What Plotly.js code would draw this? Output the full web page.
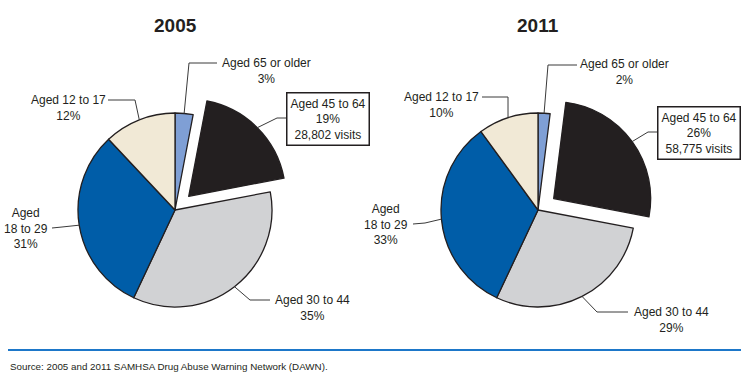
<!DOCTYPE html>
<html><head><meta charset="utf-8">
<script src="https://cdn.plot.ly/plotly-3.0.1.min.js"></script>
<style>html,body{margin:0;padding:0;background:#fff}#chart{width:750px;height:379px}</style>
</head><body><div id="chart"></div>
<script>
// ---- data ----
const categories = ['Aged 65 or older','Aged 45 to 64','Aged 30 to 44','Aged 18 to 29','Aged 12 to 17'];
const labelNames = ['Aged 65 or older','Aged 45 to 64','Aged 30 to 44','Aged<br>18 to 29','Aged 12 to 17'];
const years = ['2005','2011'];
const values2005 = [3,19,35,31,12];
const values2011 = [2,26,29,33,10];
const visits2005 = '28,802';
const visits2011 = '58,775';
const sourceText = 'Source: 2005 and 2011 SAMHSA Drug Abuse Warning Network (DAWN).';

// ---- styling / layout ----
const W = 750, H = 379;
const colors = ['#7f9fd5','#231f20','#d1d2d4','#005da8','#f1e9d6'];
const pulls = [0,0.2,0,0,0];
const R = 97;
const centers = [[175,210],[538,210]];
const FONT = '"Liberation Sans",Arial,sans-serif';
// label placement per pie, per slice: text centre, knee, line end (px)
const labelPos = [
  [ {t:[266,71], k:[189,63], e:[217,63]},
    {t:[327.5,118.5], k:[277,118], e:[287,118], box:true},
    {t:[312,308], k:[250,300], e:[270,300]},
    {t:[26,228], k:[62,227], e:[52,228]},
    {t:[68,108], k:[135,100], e:[108,100]} ],
  [ {t:[624,72], k:[548,65], e:[577,65]},
    {t:[699,133], k:[648,132], e:[659,132], box:true},
    {t:[671,320], k:[597,312], e:[628,312]},
    {t:[386,224], k:[425,223], e:[413,224]},
    {t:[441,105], k:[508,97], e:[482,97]} ]
];

const px = x => x / W;
const py = y => 1 - y / H;

function edgePoint(vals, idx, c, r, pull) {
  const tot = vals.reduce((a,b)=>a+b,0);
  let cum = 0; for (let i=0;i<idx;i++) cum += vals[i];
  const a = (cum + vals[idx]/2) / tot * 2 * Math.PI;
  const rr = r + pull * r;
  return [c[0] + rr*Math.sin(a), c[1] - rr*Math.cos(a)];
}

const allVals = [values2005, values2011];
const visits = [visits2005, visits2011];
const traces = [], annotations = [], shapes = [];

allVals.forEach((vals, p) => {
  const c = centers[p];
  const half = R * (1 + Math.max(...pulls));
  traces.push({
    type:'pie', labels:categories, values:vals, sort:false, direction:'clockwise', rotation:0,
    pull:pulls, textinfo:'none', hoverinfo:'none',
    marker:{colors:colors, line:{color:'#231f20', width:1.3}},
    domain:{x:[px(c[0]-half), px(c[0]+half)], y:[py(c[1]+half), py(c[1]-half)]}
  });
  annotations.push({text:'<b>'+years[p]+'</b>', x:px(c[0]), y:py(25), xref:'paper', yref:'paper',
    showarrow:false, xanchor:'center', yanchor:'middle', font:{family:FONT, size:19, color:'#231f20'}});
  vals.forEach((v, i) => {
    const L = labelPos[p][i];
    const s = edgePoint(vals, i, c, R, pulls[i]);
    let txt = labelNames[i] + '<br>' + v + '%';
    const ann = {text:txt, x:px(L.t[0]), y:py(L.t[1]), xref:'paper', yref:'paper', showarrow:false,
      xanchor:'center', yanchor:'middle', align:'center',
      font:{family:FONT, size:12, color:'#231f20'}};
    if (L.box) {
      ann.text = txt + '<br>' + visits[p] + ' visits';
      ann.bordercolor = '#231f20'; ann.borderwidth = 1.5; ann.bgcolor = '#fff'; ann.borderpad = 3;
    }
    annotations.push(ann);
    shapes.push({type:'path', xref:'paper', yref:'paper',
      path:'M'+px(s[0])+','+py(s[1])+' L'+px(L.k[0])+','+py(L.k[1])+' L'+px(L.e[0])+','+py(L.e[1]),
      line:{color:'#3a3a3a', width:1}});
  });
});

shapes.push({type:'line', xref:'paper', yref:'paper', x0:px(8), x1:px(741), y0:py(350), y1:py(350),
  line:{color:'#1d77c9', width:2}});
annotations.push({text:sourceText, x:px(8), y:py(366), xref:'paper', yref:'paper', showarrow:false,
  xanchor:'left', yanchor:'middle', font:{family:FONT, size:9.8, color:'#231f20'}});

Plotly.newPlot('chart', traces, {
  width:W, height:H, margin:{l:0,r:0,t:0,b:0}, showlegend:false,
  paper_bgcolor:'#fff', plot_bgcolor:'#fff', annotations:annotations, shapes:shapes
}, {displayModeBar:false, staticPlot:true});
</script></body></html>
